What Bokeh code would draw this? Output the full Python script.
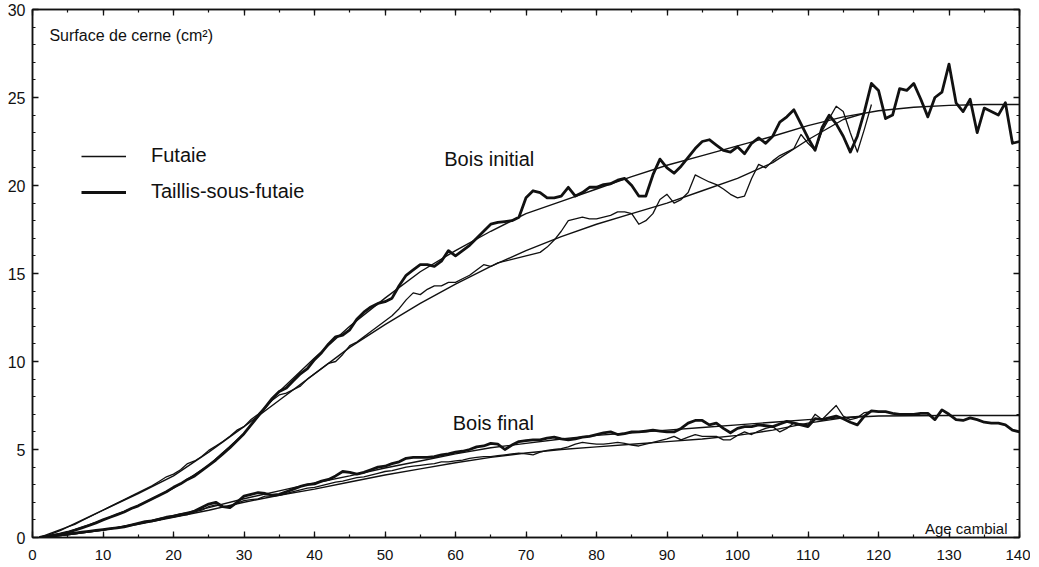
from bokeh.plotting import figure
from bokeh.models import (Range1d, LinearAxis, SingleIntervalTicker, Label, Legend, LegendItem,
                          CustomJSTickFormatter)
from bokeh.embed import file_html
from bokeh.resources import INLINE

# ---------------- data ----------------
ages_tsf = list(range(1, 141))
ages_fut = list(range(1, 120))

# Bois initial - Taillis-sous-futaie (raw, thick)
init_tsf = [0.0, 0.05, 0.12, 0.2, 0.3, 0.42, 0.55, 0.68, 0.83, 1.0,
            1.15, 1.3, 1.45, 1.65, 1.8, 2.0, 2.2, 2.4, 2.6, 2.85,
            3.05, 3.3, 3.5, 3.8, 4.1, 4.4, 4.75, 5.1, 5.5, 5.9,
            6.4, 6.9, 7.4, 7.9, 8.3, 8.5, 8.9, 9.3, 9.6, 10.1,
            10.5, 11.0, 11.4, 11.5, 11.8, 12.4, 12.8, 13.1, 13.3, 13.4,
            13.6, 14.3, 14.9, 15.2, 15.5, 15.5, 15.4, 15.7, 16.3, 16.0,
            16.3, 16.6, 17.0, 17.4, 17.8, 17.9, 17.95, 18.0, 18.2, 19.3,
            19.7, 19.6, 19.3, 19.3, 19.4, 19.9, 19.4, 19.6, 19.9, 19.9,
            20.05, 20.1, 20.3, 20.4, 20.0, 19.4, 19.4, 20.6, 21.5, 21.0,
            20.7, 21.1, 21.6, 22.1, 22.5, 22.6, 22.3, 22.0, 21.9, 22.2,
            21.8, 22.4, 22.7, 22.4, 22.8, 23.6, 23.9, 24.3, 23.5, 22.7,
            22.0, 23.3, 24.0, 23.5, 22.8, 21.9, 22.8, 24.2, 25.8, 25.4,
            23.8, 24.0, 25.5, 25.4, 25.8, 24.9, 23.9, 25.0, 25.3, 26.9,
            24.7, 24.2, 24.9, 23.0, 24.4, 24.2, 24.0, 24.7, 22.4, 22.5]

# Bois initial - Futaie (raw, thin)
init_fut = [0.0, 0.1, 0.25, 0.4, 0.6, 0.75, 0.95, 1.15, 1.35, 1.55,
            1.75, 1.95, 2.15, 2.35, 2.55, 2.75, 2.95, 3.2, 3.45, 3.6,
            3.85, 4.2, 4.35, 4.6, 4.95, 5.2, 5.45, 5.75, 6.1, 6.3,
            6.7, 7.0, 7.4, 7.8, 8.1, 8.2, 8.4, 8.6, 9.0, 9.3,
            9.6, 9.9, 10.0, 10.4, 10.9, 11.1, 11.4, 11.7, 12.0, 12.3,
            12.6, 13.0, 13.5, 13.9, 13.8, 14.1, 14.3, 14.3, 14.5, 14.5,
            14.7, 14.9, 15.2, 15.5, 15.4, 15.6, 15.7, 15.8, 15.9, 16.0,
            16.1, 16.2, 16.5, 16.9, 17.4, 18.0, 18.1, 18.2, 18.1, 18.1,
            18.2, 18.3, 18.5, 18.5, 18.4, 17.8, 18.0, 18.4, 19.2, 19.5,
            19.0, 19.2, 19.6, 20.6, 20.4, 20.2, 20.05, 19.8, 19.5, 19.3,
            19.4, 20.4, 21.2, 21.0, 21.4, 21.7, 21.9, 22.1, 22.9, 22.4,
            22.0, 23.1, 23.8, 24.5, 24.2, 23.0, 21.9, 23.2, 24.6]

# Bois final - Taillis-sous-futaie (raw, thick)
final_tsf = [0.0, 0.05, 0.1, 0.15, 0.2, 0.25, 0.3, 0.35, 0.4, 0.45,
             0.5, 0.55, 0.6, 0.7, 0.8, 0.9, 0.95, 1.05, 1.15, 1.2,
             1.3, 1.35, 1.5, 1.7, 1.9, 2.0, 1.75, 1.7, 2.0, 2.35,
             2.45, 2.55, 2.5, 2.4, 2.45, 2.6, 2.75, 2.9, 3.0, 3.05,
             3.2, 3.3, 3.5, 3.75, 3.7, 3.6, 3.7, 3.85, 4.0, 4.05,
             4.2, 4.3, 4.5, 4.55, 4.55, 4.55, 4.6, 4.7, 4.75, 4.85,
             4.9, 5.0, 5.15, 5.2, 5.35, 5.3, 5.0, 5.25, 5.45, 5.5,
             5.55, 5.55, 5.65, 5.7, 5.6, 5.55, 5.6, 5.7, 5.75, 5.85,
             5.95, 6.0, 5.85, 5.9, 6.0, 6.0, 6.05, 6.1, 6.05, 6.0,
             6.0, 6.2, 6.5, 6.65, 6.65, 6.4, 6.5, 6.2, 5.95, 6.2,
             6.3, 6.3, 6.4, 6.35, 6.3, 6.45, 6.6, 6.5, 6.4, 6.3,
             6.75, 6.7, 6.8, 6.9, 6.75, 6.55, 6.4, 6.9, 7.2, 7.15,
             7.15, 7.05, 7.0, 7.0, 7.0, 7.05, 7.05, 6.7, 7.25, 7.0,
             6.7, 6.65, 6.8, 6.7, 6.55, 6.5, 6.5, 6.4, 6.1, 6.0]

# Bois final - Futaie (raw, thin)
final_fut = [0.0, 0.05, 0.1, 0.15, 0.2, 0.25, 0.3, 0.35, 0.4, 0.45,
             0.5, 0.55, 0.65, 0.7, 0.8, 0.85, 0.95, 1.0, 1.1, 1.2,
             1.25, 1.35, 1.45, 1.55, 1.75, 1.85, 1.75, 1.75, 1.95, 2.1,
             2.15, 2.2, 2.35, 2.35, 2.4, 2.5, 2.6, 2.7, 2.8, 2.85,
             2.95, 3.05, 3.15, 3.2, 3.3, 3.4, 3.45, 3.55, 3.65, 3.75,
             3.8, 3.9, 4.0, 4.05, 4.1, 4.15, 4.2, 4.3, 4.3, 4.35,
             4.4, 4.5, 4.55, 4.6, 4.6, 4.65, 4.7, 4.75, 4.8, 4.75,
             4.7, 4.85, 4.95, 5.0, 5.05, 5.15, 5.3, 5.4, 5.35, 5.3,
             5.3, 5.35, 5.4, 5.35, 5.25, 5.2, 5.3, 5.4, 5.5, 5.6,
             5.75, 5.55, 5.7, 5.85, 5.75, 5.75, 5.75, 5.55, 5.55, 5.8,
             6.0, 5.85, 6.05, 6.2, 6.3, 6.0, 6.2, 6.5, 6.45, 6.4,
             7.0, 6.7, 7.1, 7.5, 6.9, 6.7, 6.8, 7.1, 7.15]

# fitted curves
fit_ages_tsf = [1, 5, 10, 15, 20, 25, 30, 35, 40, 45, 50, 55, 60, 65, 70,
                75, 80, 85, 90, 95, 100, 105, 110, 115, 120, 125, 130, 135, 140]
fit_ages_fut = [1, 5, 10, 15, 20, 25, 30, 35, 40, 45, 50, 55, 60, 65, 70,
                75, 80, 85, 90, 95, 100, 105, 110, 115, 118]

fit_init_tsf = [0.0, 0.3, 1.0, 1.8, 2.8, 4.1, 5.9, 8.3, 10.2, 12.0, 13.6, 15.1, 16.3, 17.4, 18.4,
                19.1, 19.8, 20.5, 21.15, 21.7, 22.25, 22.8, 23.4, 23.9, 24.25, 24.45, 24.55, 24.6, 24.6]
fit_init_fut = [0.0, 0.6, 1.55, 2.5, 3.5, 4.85, 6.3, 7.8, 9.3, 10.8, 12.1, 13.3, 14.4, 15.4, 16.3,
                17.1, 17.8, 18.4, 19.0, 19.7, 20.4, 21.3, 22.6, 23.75, 24.1]
fit_final_tsf = [0.0, 0.15, 0.42, 0.8, 1.25, 1.7, 2.2, 2.65, 3.1, 3.5, 3.95, 4.35, 4.75, 5.1, 5.35,
                 5.6, 5.8, 5.95, 6.1, 6.25, 6.4, 6.55, 6.7, 6.8, 6.9, 6.92, 6.93, 6.93, 6.93]
fit_final_fut = [0.0, 0.15, 0.42, 0.75, 1.15, 1.55, 2.0, 2.4, 2.75, 3.15, 3.55, 3.9, 4.25, 4.55, 4.8,
                 5.0, 5.15, 5.3, 5.45, 5.6, 5.8, 6.1, 6.5, 6.8, 6.9]

# ---------------- figure ----------------
INK = "#111111"
FONT = "Liberation Sans"

p = figure(width=1030, height=566, output_backend="svg", toolbar_location=None,
           x_range=Range1d(0, 140), y_range=Range1d(0, 30),
           min_border_left=32, min_border_right=11, min_border_top=9, min_border_bottom=29)
p.xgrid.visible = False
p.ygrid.visible = False
p.outline_line_color = INK
p.outline_line_width = 1.5
p.background_fill_color = "white"
p.border_fill_color = "white"

xt = SingleIntervalTicker(interval=10, num_minor_ticks=2)
yt = SingleIntervalTicker(interval=5, num_minor_ticks=5)


def style_axis(ax, show_labels=True, fs="15px"):
    ax.axis_line_color = INK
    ax.axis_line_width = 1.5
    ax.major_tick_line_color = INK
    ax.minor_tick_line_color = INK
    ax.major_tick_line_width = 1.3
    ax.minor_tick_line_width = 1.2
    ax.major_tick_in = 6
    ax.major_tick_out = 0
    ax.minor_tick_in = 3
    ax.minor_tick_out = 0
    ax.major_label_text_font = FONT
    ax.major_label_text_color = INK
    if show_labels:
        ax.major_label_text_font_size = fs
    else:
        ax.formatter = CustomJSTickFormatter(code="return ''")
        ax.major_label_text_font_size = "1px"
        ax.major_label_standoff = 0


p.xaxis.ticker = xt
p.yaxis.ticker = yt
style_axis(p.xaxis[0], fs="15px")
style_axis(p.yaxis[0], fs="16px")
p.xaxis.major_label_standoff = 12
p.yaxis.major_label_standoff = 7

top_ax = LinearAxis(ticker=SingleIntervalTicker(interval=10, num_minor_ticks=2))
style_axis(top_ax, show_labels=False)
p.add_layout(top_ax, "above")
right_ax = LinearAxis(ticker=SingleIntervalTicker(interval=5, num_minor_ticks=5))
style_axis(right_ax, show_labels=False)
p.add_layout(right_ax, "right")

THIN = 1.3
THICK = 2.8
FIT = 1.4

# fitted curves
p.line(fit_ages_fut, fit_init_fut, line_color=INK, line_width=FIT)
p.line(fit_ages_tsf, fit_init_tsf, line_color=INK, line_width=FIT)
p.line(fit_ages_fut, fit_final_fut, line_color=INK, line_width=FIT)
p.line(fit_ages_tsf, fit_final_tsf, line_color=INK, line_width=FIT)

# raw series
r_fut = p.line(ages_fut, init_fut, line_color=INK, line_width=THIN, line_join="round")
p.line(ages_fut, final_fut, line_color=INK, line_width=THIN, line_join="round")
r_tsf = p.line(ages_tsf, init_tsf, line_color=INK, line_width=THICK, line_join="round")
p.line(ages_tsf, final_tsf, line_color=INK, line_width=THICK, line_join="round")

legend = Legend(items=[LegendItem(label="Futaie", renderers=[r_fut]),
                       LegendItem(label="Taillis-sous-futaie", renderers=[r_tsf])],
                location=(49, 334), glyph_width=45, glyph_height=22, label_height=22,
                label_standoff=25, spacing=13, padding=0, margin=0,
                border_line_alpha=0, background_fill_alpha=0,
                label_text_font=FONT, label_text_font_size="20px", label_text_color=INK)
p.add_layout(legend)

p.add_layout(Label(x=2.4, y=28.98, text="Surface de cerne (cm²)", text_font=FONT,
                   text_font_size="16px", text_color=INK, text_baseline="top"))
p.add_layout(Label(x=138.3, y=0.5, text="Age cambial", text_font=FONT,
                   text_font_size="15px", text_color=INK, text_align="right",
                   text_baseline="alphabetic"))
p.add_layout(Label(x=58.4, y=21.5, text="Bois  initial", text_font=FONT,
                   text_font_size="20px", text_color=INK, text_baseline="alphabetic"))
p.add_layout(Label(x=59.6, y=6.5, text="Bois  final", text_font=FONT,
                   text_font_size="20px", text_color=INK, text_baseline="alphabetic"))

open("out.html", "w").write(file_html(p, INLINE))
